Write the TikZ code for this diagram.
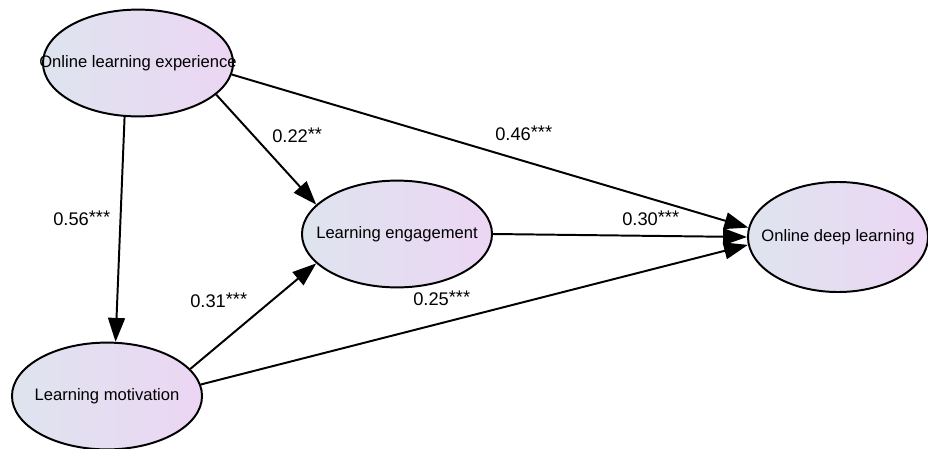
\documentclass[tikz,border=0pt]{standalone}
\usepackage{fontspec}
\setmainfont{Liberation Sans}
\usetikzlibrary{
    positioning, % posicionamento relativo de nós
    arrows.meta, % pontas de seta
    shapes.geometric % elipses
}
\definecolor{latentL}{RGB}{222,228,238}
\definecolor{latentR}{RGB}{236,214,244}
\newcommand{\stars}[1]{\raisebox{.2ex}{#1}}
\tikzset{
  latent/.style={ellipse, draw, line width=1.4pt, inner sep=0pt,
    minimum width=\W, minimum height=\H,
    left color=latentL, right color=latentR,
    font=\fontsize{11.8}{14}\selectfont},
  effect/.style={-{Triangle[length=17pt,width=12pt]}, line width=1.4pt},
  coef/.style={anchor=west, inner sep=0pt, font=\fontsize{13}{15}\selectfont}
}

\begin{document}
\begin{tikzpicture}[x=0.025cm, y=-0.025cm]
      % simple knobs (one unit = one pixel of the 928x448 frame)
      \def\W{4.75cm}   % ellipse width
      \def\H{2.67cm}   % ellipse height
      \useasboundingbox (0,0) rectangle (928,448);

      % ===================== CONSTRUCTS =====================
      \node[latent] (ole) at (138,63)  {\makebox[0pt]{Online learning experience}};
      \node[latent] (le)  at (397,234) {\makebox[0pt]{Learning engagement}};
      \node[latent] (lm)  at (107,396) {\makebox[0pt]{Learning motivation}};
      \node[latent, minimum width=4.5cm, minimum height=2.75cm]
                    (odl) at (838,237) {\makebox[0pt]{Online deep learning}};

      % ===================== PATHS =====================
      \draw[effect] (ole.-22)  -- (le.160);
      \draw[effect] (ole.-7)   -- (odl.174);
      \draw[effect] (ole.-104) -- (lm.81);
      \draw[effect] (le.east)  -- (odl.west);
      \draw[effect] (lm.18)    -- (le.200);
      \draw[effect] (lm.7)     -- (odl.185);

      % path coefficients
      \node[coef] (cOleLe)  at (272,135) {0.22\stars{**}};
      \node[coef] (cOleOdl) at (495,133) {0.46\stars{***}};
      \node[coef] (cOleLm)  at (53,218)  {0.56\stars{***}};
      \node[coef] (cLeOdl)  at (622,218) {0.30\stars{***}};
      \node[coef] (cLmLe)   at (190,300) {0.31\stars{***}};
      \node[coef] (cLmOdl)  at (413,298) {0.25\stars{***}};
\end{tikzpicture}
\end{document}
